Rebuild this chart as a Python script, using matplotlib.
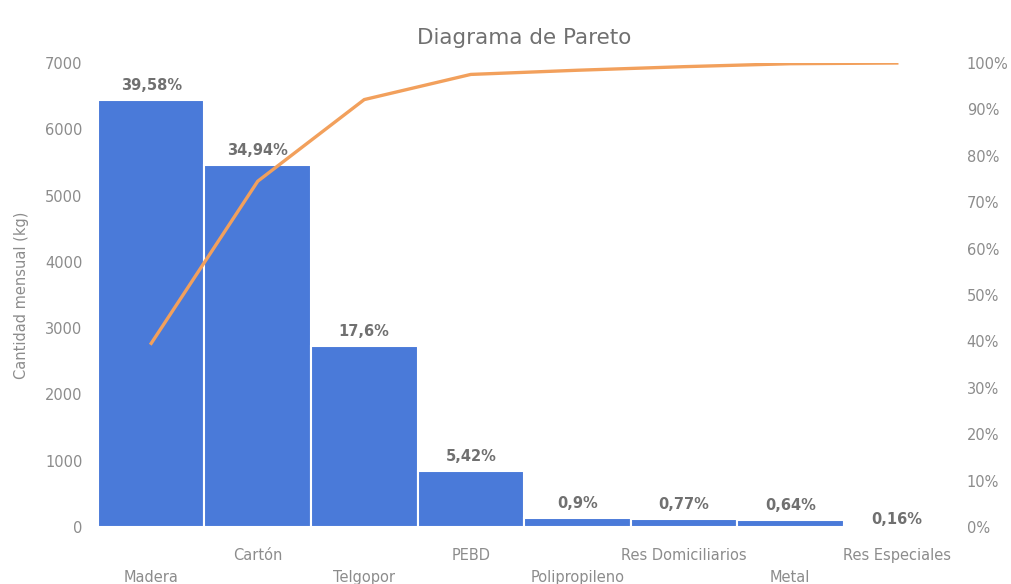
import matplotlib.pyplot as plt
from matplotlib.ticker import FuncFormatter

categorias = ["Madera", "Cartón", "Telgopor", "PEBD", "Polipropileno",
              "Res Domiciliarios", "Metal", "Res Especiales"]
cantidad = [6440, 5460, 2730, 840, 140, 115, 100, 25]
porcentaje = ["39,58%", "34,94%", "17,6%", "5,42%", "0,9%", "0,77%", "0,64%", "0,16%"]
acumulado = [39.58, 74.52, 92.12, 97.54, 98.44, 99.21, 99.85, 100.0]

gris = "#8c8c8c"
azul = "#4a7ad9"
naranja = "#f2a05c"

fig = plt.figure(figsize=(10.12, 5.84), dpi=100)
ax = fig.add_axes([0.0968, 0.0976, 0.842, 0.7945])
x = range(len(categorias))

ax.bar(x, cantidad, width=1.0, color=azul, edgecolor="white", linewidth=1.5)
ax.set_xlim(-0.5, len(categorias) - 0.5)
ax.set_ylim(0, 7000)
ax.set_yticks(range(0, 7001, 1000))

for i, (v, p) in enumerate(zip(cantidad, porcentaje)):
    off = 5 if i < len(cantidad) - 1 else -1
    ax.annotate(p, (i, v), xytext=(0, off), textcoords="offset points",
                ha="center", va="bottom", fontsize=10.5, color="#707070",
                fontweight="bold")

ax.set_xticks(list(x))
ax.set_xticklabels(categorias)
for i, t in enumerate(ax.xaxis.get_major_ticks()):
    t.set_pad(31 if i % 2 == 0 else 15)

ax.set_ylabel("Cantidad mensual (kg)", color=gris, fontsize=10.5, labelpad=12)
ax.set_title("Diagrama de Pareto", color="#707070", fontsize=15.5, pad=14)

ax2 = ax.twinx()
ax2.plot(list(x), acumulado, color=naranja, linewidth=2.4)
ax2.set_ylim(0, 100)
ax2.set_yticks(range(0, 101, 10))
ax2.yaxis.set_major_formatter(FuncFormatter(lambda v, _: f"{int(v)}%"))

for a in (ax, ax2):
    for s in a.spines.values():
        s.set_visible(False)
    a.tick_params(length=0, colors=gris, labelsize=10.5)
ax.tick_params(axis="y", pad=11)
ax2.tick_params(axis="y", pad=12)

fig.savefig("out.png", dpi=100)
